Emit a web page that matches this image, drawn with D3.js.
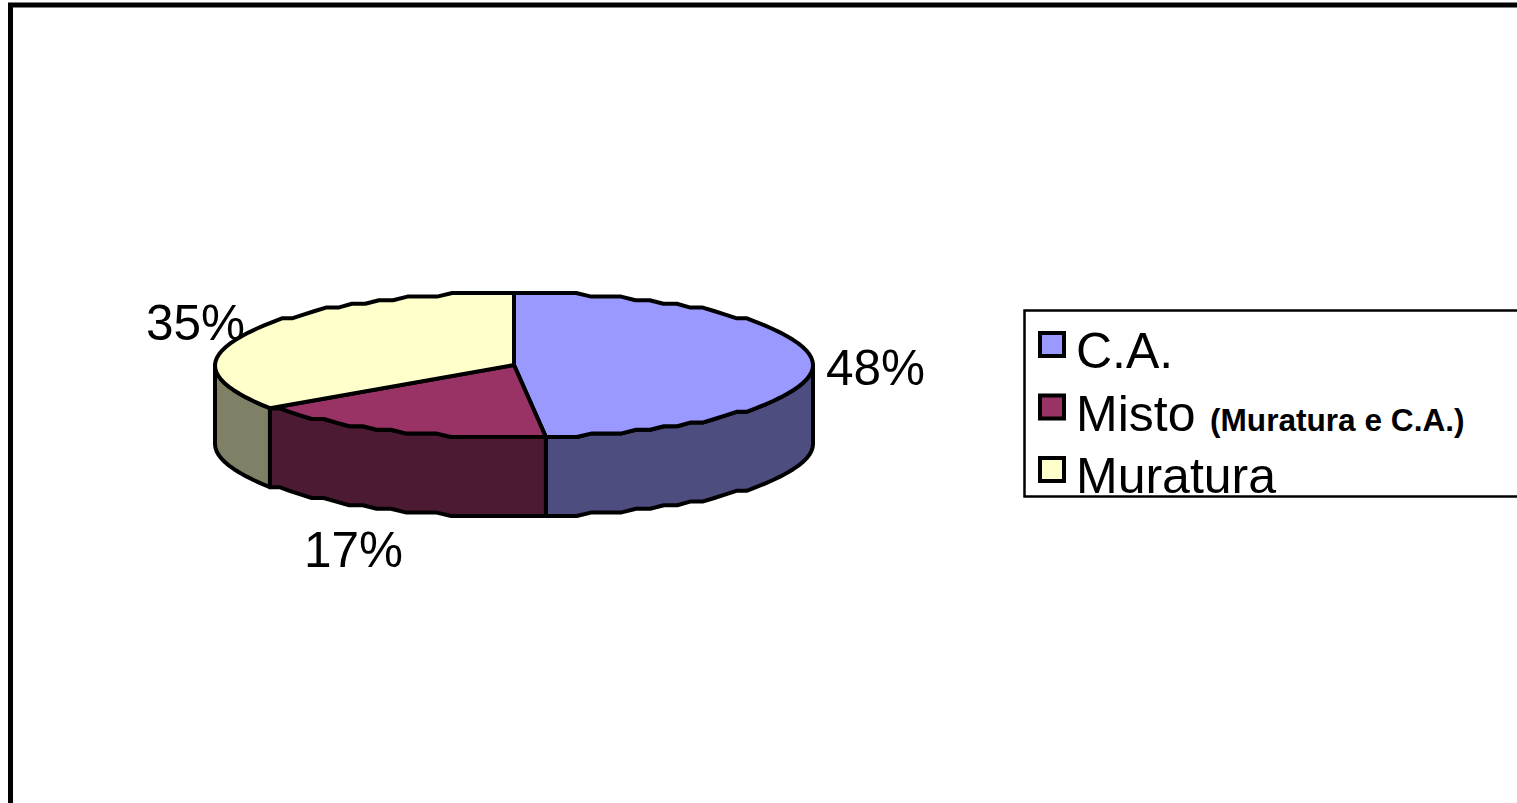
<!DOCTYPE html>
<html>
<head>
<meta charset="utf-8">
<script src="https://d3js.org/d3.v7.min.js"></script>
<style>
body { margin: 0; background: #fff; overflow: hidden; }
text { font-family: "Liberation Sans", Arial, sans-serif; fill: #000; }
</style>
</head>
<body>
<svg id="chart" width="1517" height="803"></svg>
<script>
const categories = ['C.A.', 'Misto', 'Muratura']
const subLabels = ['', '(Muratura e C.A.)', '']
const values = [48.3, 16.9, 34.8]
const topColors = ['#9999ff', '#993366', '#ffffcc']
const sideColors = ['#4d4d80', '#4d1a33', '#808066']
const pctLabels = ['48%', '17%', '35%']

const svg = d3.select('#chart')

// outer frame, runs off the right and bottom of the picture
svg.append('rect')
    .attr('x', 10.5).attr('y', 5)
    .attr('width', 1600).attr('height', 900)
    .attr('fill', '#fff').attr('stroke', '#000').attr('stroke-width', 5)

// the tilted disc: unit circle mapped on to the ellipse
const x = d3.scaleLinear().domain([-1, 1]).range([215, 813])
const y = d3.scaleLinear().domain([-1, 1]).range([293, 437])
const depth = 79
const snap = 3.6

const pie = d3.pie().sort(null).value(d => d)
const slices = pie(values)

function rim(a0, a1) {
    const n = Math.max(1, Math.round((a1 - a0) / (Math.PI / 60)))
    return d3.range(n + 1).map(i => {
        const a = a0 + (a1 - a0) * i / n
        // the source chart has a stepped outline, so y goes to a coarse grid
        const py = y(-Math.cos(a)) - y(-1)
        return [x(Math.sin(a)), y(-1) + Math.round(py / snap) * snap]
    })
}

const line = d3.line()

// percent labels sit under the pie
const labelPos = [[826, 385], [304, 567], [146, 340]]
svg.selectAll('.pct')
    .data(pctLabels)
    .enter().append('text')
    .attr('class', 'pct')
    .attr('x', (d, i) => labelPos[i][0])
    .attr('y', (d, i) => labelPos[i][1])
    .attr('font-size', 49.5)
    .text(d => d)

// side walls, only the front half of the disc shows
const front0 = Math.PI / 2, front1 = Math.PI * 3 / 2
const walls = svg.append('g')
slices.forEach((s, i) => {
    const a0 = Math.max(s.startAngle, front0), a1 = Math.min(s.endAngle, front1)
    if (a1 <= a0) return
    const upper = rim(a0, a1)
    const lower = upper.map(p => [p[0], p[1] + depth]).reverse()
    walls.append('path')
        .attr('d', line(upper.concat(lower)) + 'Z')
        .attr('fill', sideColors[i])
        .attr('stroke', '#000').attr('stroke-width', 4)
        .attr('stroke-linejoin', 'round')
})

// top faces
const cx = x(0), cy = y(0)
svg.append('g').selectAll('path')
    .data(slices)
    .enter().append('path')
    .attr('d', d => line([[cx, cy]].concat(rim(d.startAngle, d.endAngle))) + 'Z')
    .attr('fill', (d, i) => topColors[i])
    .attr('stroke', '#000').attr('stroke-width', 4)
    .attr('stroke-linejoin', 'round')

// legend, also runs off the right edge
const legend = svg.append('g')
legend.append('rect')
    .attr('x', 1024.5).attr('y', 310.5)
    .attr('width', 600).attr('height', 186)
    .attr('fill', '#fff').attr('stroke', '#000').attr('stroke-width', 2.5)

const row = d3.scalePoint().domain(categories).range([368, 493])

categories.forEach((c, i) => {
    legend.append('rect')
        .attr('x', 1040).attr('y', row(c) - 35)
        .attr('width', 24).attr('height', 23)
        .attr('fill', topColors[i])
        .attr('stroke', '#000').attr('stroke-width', 4)
    legend.append('text')
        .attr('x', 1076).attr('y', row(c))
        .attr('font-size', 50)
        .text(c)
    if (subLabels[i]) {
        legend.append('text')
            .attr('x', 1210).attr('y', row(c))
            .attr('font-size', 31.6)
            .attr('font-weight', 'bold')
            .text(subLabels[i])
    }
})
</script>
</body>
</html>
